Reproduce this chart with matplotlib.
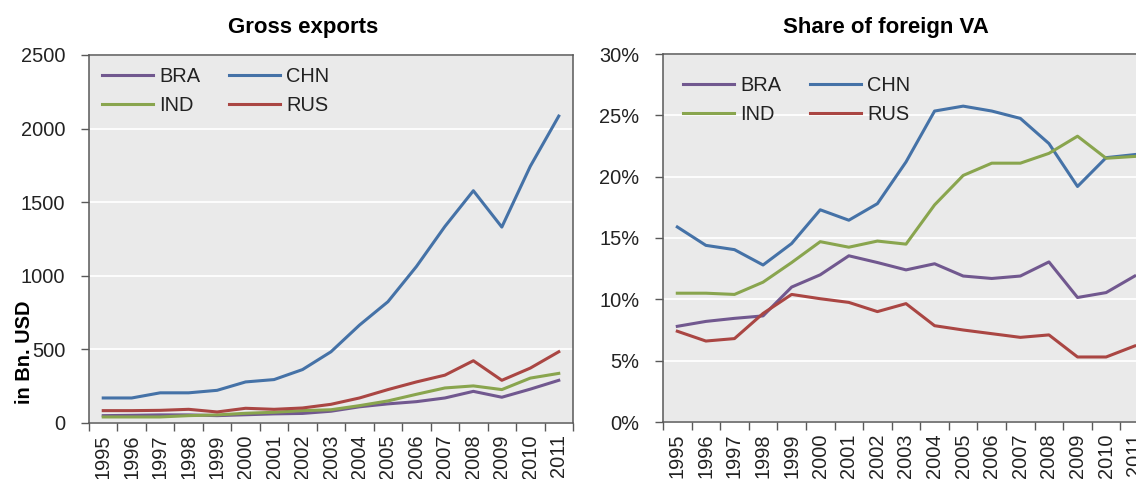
import matplotlib.pyplot as plt
from matplotlib.ticker import FuncFormatter

years = [str(y) for y in range(1995, 2012)]
countries = ['BRA', 'CHN', 'IND', 'RUS']
colors = {'BRA': '#71588F', 'CHN': '#4572A7', 'IND': '#89A54E', 'RUS': '#AA4643'}

# Gross exports, bn USD
exp_bra = [50, 52, 55, 55, 50, 56, 62, 65, 80, 110, 130, 145, 170, 215, 175, 230, 290]
exp_chn = [170, 170, 205, 205, 222, 279, 295, 363, 484, 665, 824, 1063, 1335, 1578, 1331, 1744, 2085]
exp_ind = [41, 41, 41, 50, 55, 66, 73, 84, 90, 118, 150, 195, 238, 252, 227, 305, 337]
exp_rus = [84, 84, 86, 93, 75, 100, 93, 102, 127, 170, 227, 279, 325, 423, 290, 373, 484]

# Share of foreign value added, %
va_bra = [7.8, 8.2, 8.45, 8.65, 11.0, 12.0, 13.55, 13.0, 12.4, 12.9, 11.9, 11.7, 11.9, 13.05, 10.15, 10.55, 11.9]
va_chn = [15.9, 14.4, 14.05, 12.8, 14.55, 17.3, 16.45, 17.8, 21.2, 25.35, 25.75, 25.35, 24.75, 22.7, 19.2, 21.55, 21.8]
va_ind = [10.5, 10.5, 10.4, 11.4, 13.0, 14.7, 14.25, 14.75, 14.5, 17.7, 20.1, 21.1, 21.1, 21.9, 23.3, 21.5, 21.65]
va_rus = [7.4, 6.6, 6.8, 8.85, 10.4, 10.05, 9.75, 9.0, 9.65, 7.85, 7.5, 7.2, 6.9, 7.1, 5.3, 5.3, 6.2]

plt.rcParams['font.family'] = ['Liberation Sans', 'DejaVu Sans']
W, H = 1136, 479
fig = plt.figure(figsize=(W / 100, H / 100), dpi=100)


def px_axes(x0, y0, x1, y1):
    return fig.add_axes([x0 / W, 1 - y1 / H, (x1 - x0) / W, (y1 - y0) / H])


def style(ax, ymax, step, fmt, leg_anchor):
    x = list(range(len(years)))
    ax.set_facecolor('#EAEAEA')
    ax.set_xlim(-0.5, len(years) - 0.5)
    ax.set_ylim(0, ymax)
    ax.set_yticks([i * step for i in range(int(round(ymax / step)) + 1)])
    ax.yaxis.set_major_formatter(FuncFormatter(fmt))
    ax.set_xticks(x)
    ax.set_xticklabels(years, rotation=90)
    ax.set_xticks([i - 0.5 for i in range(len(years) + 1)], minor=True)
    ax.tick_params(axis='x', which='major', length=0, pad=8, labelsize=14.4, colors='#222222')
    ax.tick_params(axis='x', which='minor', length=6, width=1, color='#595959')
    ax.tick_params(axis='y', length=6, width=1, color='#595959', pad=11, labelsize=14.4,
                   labelcolor='#222222')
    ax.grid(axis='y', color='white', linewidth=1.3)
    ax.set_axisbelow(True)
    for s in ax.spines.values():
        s.set_color('#595959')
        s.set_linewidth(1.1)
    # legend is filled row by row in the original: BRA CHN / IND RUS
    h, l = ax.get_legend_handles_labels()
    order = [0, 2, 1, 3]
    leg = ax.legend([h[i] for i in order], [l[i] for i in order], ncol=2, loc='upper left',
                    bbox_to_anchor=leg_anchor, frameon=False, fontsize=14.4,
                    handlelength=2.55, handletextpad=0.3, columnspacing=1.45,
                    labelspacing=0.5, borderpad=0, borderaxespad=0)
    for t in leg.get_texts():
        t.set_color('#222222')


x = list(range(len(years)))

ax1 = px_axes(89, 55, 573, 423)
for c, vals in zip(countries, [exp_bra, exp_chn, exp_ind, exp_rus]):
    ax1.plot(x, vals, color=colors[c], linewidth=2.2, label=c)
style(ax1, 2500, 500, lambda v, p: f'{v:.0f}', (0.027, 0.968))

ax2 = px_axes(663, 54, 1149, 422)
for c, vals in zip(countries, [va_bra, va_chn, va_ind, va_rus]):
    ax2.plot(x, vals, color=colors[c], linewidth=2.2, label=c)
style(ax2, 30, 5, lambda v, p: f'{v:.0f}%', (0.041, 0.94))

fig.text(303 / W, 1 - 28 / H, 'Gross exports', ha='center', va='center',
         fontsize=16, fontweight='bold')
fig.text(886 / W, 1 - 28 / H, 'Share of foreign VA', ha='center', va='center',
         fontsize=16, fontweight='bold')
fig.text(25 / W, 1 - 352 / H, 'in Bn. USD', rotation=90, ha='center', va='center',
         fontsize=14.4, fontweight='bold')

fig.savefig('out.png', dpi=100)
